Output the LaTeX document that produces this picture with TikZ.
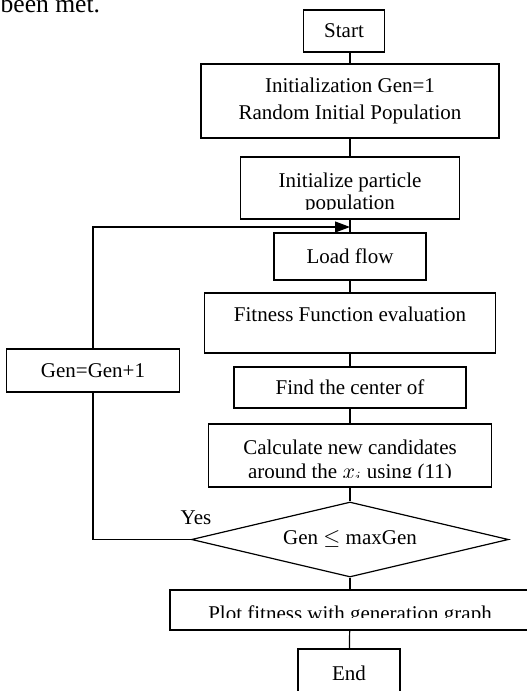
\documentclass[tikz,border=0pt]{standalone}
\usepackage{fontspec}
\setmainfont{Liberation Serif}
\usetikzlibrary{shapes.geometric,arrows.meta}

\begin{document}
\begin{tikzpicture}[
    x=0.5pt, y=-0.5pt,
    line width=0.6pt,
    every node/.style={font=\fontsize{10.5}{13.5}\selectfont},
    box/.style={rectangle, draw, inner sep=0pt},
    decision/.style={diamond, draw, aspect=4.2, inner sep=0pt},
    txt/.style={inner sep=0pt, anchor=base},
    arrow/.style={-{Triangle[length=7.5pt,width=5.5pt]}}
]
\useasboundingbox (0,0) rectangle (526,691);

% Running text of the page above the chart
\node[txt, anchor=base west, font=\fontsize{12.8}{15}\selectfont] (bodytext) at (0,12) {been met.};

% Main column
\node[box, minimum width=40.5pt, minimum height=21pt] (start) at (344,31) {Start};
\node[box, minimum width=149pt, minimum height=37pt, align=center] (init) at (350,101) {Initialization Gen=1\\Random Initial Population};

\node[box, minimum width=109.5pt, minimum height=31pt] (particle) at (350,188) {};
\begin{scope}
    \clip (particle.north west) rectangle ([yshift=5pt]particle.south east);
    \node[txt] (particle line1) at (350,187) {Initialize particle};
    \node[txt] (particle line2) at (350,209.5) {population};
\end{scope}

\node[box, minimum width=76pt, minimum height=23.5pt] (load) at (350,256.5) {Load flow};

\node[box, minimum width=145.5pt, minimum height=30pt] (fitness) at (350,323) {};
\node[txt] (fitness text) at (350,321.5) {Fitness Function evaluation};

\node[box, minimum width=116pt, minimum height=20.5pt] (find) at (350,387.5) {Find the center of};

\node[box, minimum width=141.5pt, minimum height=31.5pt] (calc) at (350,455.5) {};
\begin{scope}
    \clip (calc.north west) rectangle ([yshift=5.25pt]calc.south east);
    \node[txt] (calc line1) at (350,454) {Calculate new candidates};
    \node[txt] (calc line2) at (350,478) {around the $x_i$ using (11)};
\end{scope}

\node[decision, minimum width=158.5pt, minimum height=37.5pt] (cond) at (350,539.5) {Gen $\leq$ maxGen};

\node[box, minimum width=180pt, minimum height=20pt] (plot) at (350,610) {};
\begin{scope}
    \clip (plot.north west) rectangle ([yshift=6.5pt]plot.south east);
    \node[txt] (plot text) at (350,620) {Plot fitness with generation graph};
\end{scope}

\node[box, minimum width=51pt, minimum height=24pt] (end) at (349,673) {End};

% Loop back
\node[box, minimum width=86.5pt, minimum height=21.5pt] (gen) at (93,370.5) {Gen=Gen+1};
\node (yes) at (196,518) {Yes};
\coordinate (merge) at (350,227);

% Connectors
\draw (init.north) -- (init.north |- start.south);
\draw (init) -- (particle);
\draw (particle) -- (load);
\draw (load) -- (fitness);
\draw (fitness) -- (find);
\draw (find) -- (calc);
\draw (calc) -- (cond);
\draw (cond) -- (plot);
\draw (plot) -- (end);
\draw (cond.west) -| (gen.south);
\draw[arrow] (gen.north) |- (merge);

\end{tikzpicture}
\end{document}
